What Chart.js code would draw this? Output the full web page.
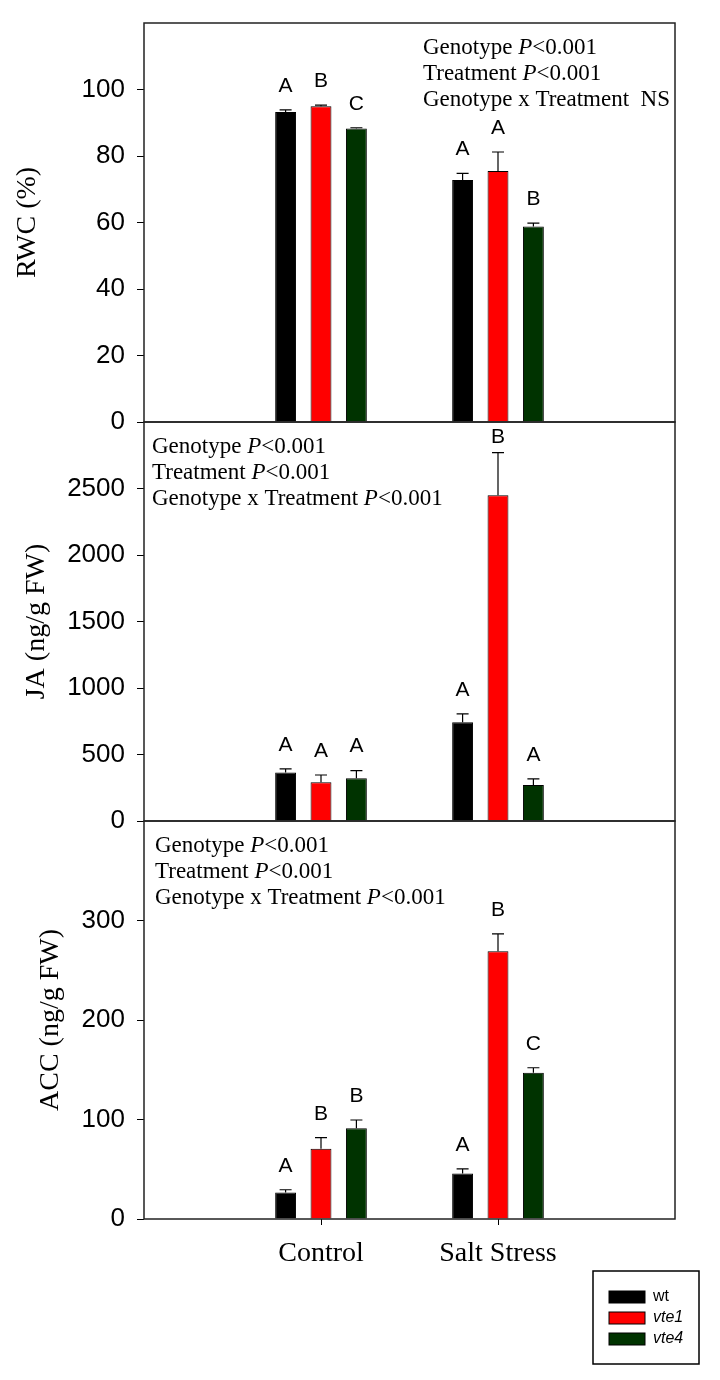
<!DOCTYPE html>
<html>
<head>
<meta charset="utf-8">
<script src="https://cdn.jsdelivr.net/npm/chart.js@4.4.1/dist/chart.umd.min.js"></script>
<style>
  html, body { margin: 0; padding: 0; background: #fff; }
  #wrap { position: relative; width: 720px; height: 1380px; }
  canvas { position: absolute; left: 0; }
</style>
</head>
<body>
<div id="wrap">
  <canvas id="rwcChart" width="720" height="452" style="top:0px"></canvas>
  <canvas id="jaChart" width="720" height="459" style="top:392px"></canvas>
  <canvas id="accChart" width="720" height="589" style="top:791px"></canvas>
</div>
<script>
// data
const categories = ['Control', 'Salt Stress'];
const genotypes = ['wt', 'vte1', 'vte4'];

const rwcWt = [93.2, 72.8];
const rwcVte1 = [95.0, 75.5];
const rwcVte4 = [88.3, 58.8];
const rwcErrWt = [0.7, 2.0];
const rwcErrVte1 = [0.3, 5.7];
const rwcErrVte4 = [0.2, 1.0];
const rwcLetters = [['A', 'A'], ['B', 'A'], ['C', 'B']];
const rwcStats = ['Genotype P<0.001', 'Treatment P<0.001', 'Genotype x Treatment  NS'];

const jaWt = [364, 743];
const jaVte1 = [291, 2450];
const jaVte4 = [321, 271];
const jaErrWt = [28, 63];
const jaErrVte1 = [55, 319];
const jaErrVte4 = [58, 45];
const jaLetters = [['A', 'A'], ['A', 'B'], ['A', 'A']];
const jaStats = ['Genotype P<0.001', 'Treatment P<0.001', 'Genotype x Treatment P<0.001'];

const accWt = [26.7, 45.7];
const accVte1 = [70.7, 269];
const accVte4 = [91.2, 147];
const accErrWt = [2.7, 4.7];
const accErrVte1 = [11, 17.5];
const accErrVte4 = [8.3, 5];
const accLetters = [['A', 'A'], ['B', 'B'], ['B', 'C']];
const accStats = ['Genotype P<0.001', 'Treatment P<0.001', 'Genotype x Treatment P<0.001'];

const barColors = ['#000000', '#ff0000', '#003300'];
const SANS = '"Liberation Sans", Arial, sans-serif';
const SERIF = '"Liberation Serif", "Times New Roman", serif';

// empty slot each side so the two groups sit at 1/3 and 2/3 of the width
const pad = arr => [null, ...arr, null];

function drawStats(ctx, lines, x, y0) {
  ctx.fillStyle = '#000';
  ctx.textAlign = 'left';
  ctx.textBaseline = 'middle';
  lines.forEach((line, i) => {
    let x1 = x;
    const y = y0 + i * 26;
    line.split(/(P)(?=<)/).forEach(part => {
      ctx.font = (part === 'P' ? 'italic ' : '') + '23px ' + SERIF;
      ctx.fillText(part, x1, y);
      x1 += ctx.measureText(part).width;
    });
  });
}

const panelDecor = {
  id: 'panelDecor',
  afterDatasetsDraw(chart, args, opts) {
    const ctx = chart.ctx;
    const ca = chart.chartArea;
    const yScale = chart.scales.y;
    ctx.save();
    chart.data.datasets.forEach((ds, di) => {
      const meta = chart.getDatasetMeta(di);
      meta.data.forEach((bar, i) => {
        const v = ds.data[i];
        if (v == null) return;
        const top = yScale.getPixelForValue(v + ds.errors[i]);
        ctx.strokeStyle = '#000';
        ctx.lineWidth = 1.2;
        ctx.beginPath();
        ctx.moveTo(bar.x, bar.y);
        ctx.lineTo(bar.x, top);
        ctx.moveTo(bar.x - 6, top);
        ctx.lineTo(bar.x + 6, top);
        ctx.stroke();
        // significance letter, kept inside the frame
        ctx.fillStyle = '#000';
        ctx.font = '21px ' + SANS;
        ctx.textAlign = 'center';
        ctx.textBaseline = 'middle';
        ctx.fillText(ds.letters[i], bar.x, Math.max(top - 24, ca.top + 15));
      });
    });
    // frame round the plot
    ctx.strokeStyle = '#222';
    ctx.lineWidth = 1.5;
    ctx.strokeRect(ca.left, ca.top, ca.width, ca.height);

    drawStats(ctx, opts.lines, ca.left + opts.dx, ca.top + 25);

    if (opts.legend) {
      const bx = ca.right - 82, by = ca.bottom + 52;
      ctx.strokeStyle = '#000';
      ctx.lineWidth = 1.5;
      ctx.strokeRect(bx, by, 106, 93);
      chart.data.datasets.forEach((ds, i) => {
        const sy = by + 20 + i * 21;
        ctx.fillStyle = ds.backgroundColor;
        ctx.fillRect(bx + 16, sy, 36, 12);
        ctx.lineWidth = 1;
        ctx.strokeRect(bx + 16, sy, 36, 12);
        ctx.fillStyle = '#000';
        ctx.font = (ds.label === 'wt' ? '' : 'italic ') + '16px ' + SANS;
        ctx.textAlign = 'left';
        ctx.textBaseline = 'middle';
        ctx.fillText(ds.label, bx + 60, sy + 6);
      });
    }
    ctx.restore();
  }
};

function makePanel(id, cfg) {
  const datasets = genotypes.map((g, i) => ({
    label: g,
    data: pad(cfg.means[i]),
    errors: pad(cfg.errs[i]),
    letters: pad(cfg.letters[i]),
    backgroundColor: barColors[i],
    borderColor: '#000',
    borderWidth: 1,
    categoryPercentage: 0.6,
    barPercentage: 0.59
  }));

  new Chart(document.getElementById(id), {
    type: 'bar',
    data: { labels: pad(categories).map(c => c || ''), datasets: datasets },
    plugins: [panelDecor],
    options: {
      responsive: false,
      animation: false,
      layout: { padding: cfg.padding },
      scales: {
        x: {
          offset: false,
          display: cfg.showX,
          border: { display: false },
          grid: {
            offset: false,
            drawOnChartArea: false,
            drawTicks: true,
            tickLength: 6,
            color: c => (c.tick && c.tick.label) ? '#000' : 'rgba(0,0,0,0)'
          },
          ticks: { autoSkip: false, maxRotation: 0, padding: 12, color: '#000', font: { family: SERIF, size: 28 } },
          afterFit: s => {
            if (cfg.showX) s.height = 60;
            s.paddingLeft = 0;
            s.paddingRight = 0;
          }
        },
        y: {
          min: 0,
          max: cfg.max,
          border: { display: false },
          grid: { drawOnChartArea: false, drawTicks: true, tickLength: 7, color: '#000' },
          ticks: {
            stepSize: cfg.step, padding: 12, color: '#000',
            font: { family: SANS, size: 26 },
            callback: v => String(v)
          },
          title: { display: true, text: cfg.title, color: '#000', font: { family: SERIF, size: 28 }, padding: { top: cfg.titlePad } },
          afterBuildTicks: s => { s.ticks = s.ticks.filter(t => t.value < cfg.max); },
          afterFit: s => { s.width = 144; s.paddingTop = 0; s.paddingBottom = 0; }
        }
      },
      plugins: {
        legend: { display: false },
        tooltip: { enabled: false },
        panelDecor: { lines: cfg.stats, dx: cfg.statsDx, legend: cfg.legend }
      }
    }
  });
}

makePanel('rwcChart', {
  means: [rwcWt, rwcVte1, rwcVte4],
  errs: [rwcErrWt, rwcErrVte1, rwcErrVte4],
  letters: rwcLetters,
  stats: rwcStats, statsDx: 279,
  max: 120, step: 20, title: 'RWC (%)', titlePad: 11,
  showX: false, legend: false,
  padding: { top: 23, bottom: 30, left: 0, right: 45 }
});

makePanel('jaChart', {
  means: [jaWt, jaVte1, jaVte4],
  errs: [jaErrWt, jaErrVte1, jaErrVte4],
  letters: jaLetters,
  stats: jaStats, statsDx: 8,
  max: 3000, step: 500, title: 'JA (ng/g FW)', titlePad: 20,
  showX: false, legend: false,
  padding: { top: 30, bottom: 30, left: 0, right: 45 }
});

makePanel('accChart', {
  means: [accWt, accVte1, accVte4],
  errs: [accErrWt, accErrVte1, accErrVte4],
  letters: accLetters,
  stats: accStats, statsDx: 11,
  max: 400, step: 100, title: 'ACC (ng/g FW)', titlePad: 34,
  showX: true, legend: true,
  padding: { top: 30, bottom: 101, left: 0, right: 45 }
});
</script>
</body>
</html>
